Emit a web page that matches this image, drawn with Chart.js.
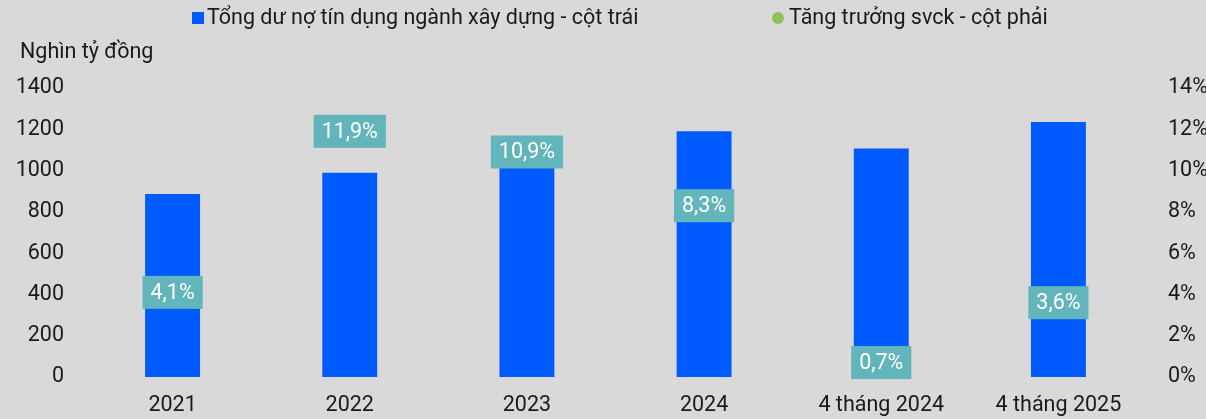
<!DOCTYPE html>
<html>
<head>
<meta charset="utf-8">
<script src="https://cdn.jsdelivr.net/npm/chart.js@4/dist/chart.umd.min.js"></script>
<style>
  html, body { margin: 0; padding: 0; background: #d9d9d9; }
  #wrap { width: 1206px; height: 419px; position: relative; }
</style>
</head>
<body>
<div id="wrap"><canvas id="chart"></canvas></div>
<script>
"use strict";
const categories = ["2021", "2022", "2023", "2024", "4 tháng 2024", "4 tháng 2025"];
const creditValues = [886, 990, 1095, 1191, 1107, 1235];
const growthValues = [4.1, 11.9, 10.9, 8.3, 0.7, 3.6];
const leftTicks = [0, 200, 400, 600, 800, 1000, 1200, 1400];
const rightTicks = [0, 2, 4, 6, 8, 10, 12, 14];

const barColor = "#005bff";
const dotColor = "#92c15a";
const labelBg = "#62b6bb";
const textColor = "#1a1a1a";
const fontFamily = "Roboto, 'Noto Sans', sans-serif";
const fontSize = 21.5;

// legend, axis title and the teal value boxes
const extras = {
    id: "extras",
    afterDatasetsDraw(chart) {
        const ctx = chart.ctx;
        ctx.save();
        ctx.font = fontSize + "px " + fontFamily;
        ctx.textBaseline = "middle";

        // value boxes on the growth points
        const meta = chart.getDatasetMeta(1);
        meta.data.forEach((pt, i) => {
            const txt = growthValues[i].toFixed(1).replace(".", ",") + "%";
            const w = ctx.measureText(txt).width + 16;
            const h = 33;
            ctx.fillStyle = labelBg;
            ctx.fillRect(pt.x - w / 2, pt.y - h / 2, w, h);
            ctx.fillStyle = "#ffffff";
            ctx.textAlign = "center";
            ctx.fillText(txt, pt.x, pt.y + 1);
        });

        // legend
        ctx.textAlign = "left";
        ctx.fillStyle = barColor;
        ctx.fillRect(192, 12, 12, 12);
        ctx.fillStyle = textColor;
        ctx.fillText(chart.data.datasets[0].label, 207, 19);
        ctx.fillStyle = dotColor;
        ctx.beginPath();
        ctx.arc(778, 18, 6, 0, Math.PI * 2);
        ctx.fill();
        ctx.fillStyle = textColor;
        ctx.fillText(chart.data.datasets[1].label, 789, 19);

        // left axis title
        ctx.fillText("Nghìn tỷ đồng", 20, 53);
        ctx.restore();
    }
};

new Chart(document.querySelector("#chart"), {
    data: {
        labels: categories,
        datasets: [
            {
                type: "bar",
                label: "Tổng dư nợ tín dụng ngành xây dựng - cột trái",
                data: creditValues,
                backgroundColor: barColor,
                barPercentage: 0.31,
                categoryPercentage: 1,
                yAxisID: "y",
                order: 2,
            },
            {
                type: "line",
                label: "Tăng trưởng svck - cột phải",
                data: growthValues,
                showLine: false,
                pointRadius: 0,
                borderColor: dotColor,
                backgroundColor: dotColor,
                yAxisID: "y1",
                order: 1,
            },
        ],
    },
    options: {
        responsive: true,
        maintainAspectRatio: false,
        animation: false,
        layout: { padding: { top: 88, bottom: 0, left: 0, right: 0 } },
        plugins: {
            legend: { display: false },
            tooltip: { enabled: false },
        },
        scales: {
            x: {
                grid: { display: false, drawTicks: false },
                border: { display: false },
                afterFit: s => { s.height = 42; },
                ticks: { color: textColor, font: { family: fontFamily, size: fontSize }, padding: 16 },
            },
            y: {
                position: "left",
                min: 0,
                max: 1400,
                afterBuildTicks: s => { s.ticks = leftTicks.map(v => ({ value: v })); },
                afterFit: s => { s.width = 84; },
                grid: { display: false, drawTicks: false },
                border: { display: false },
                ticks: {
                    color: textColor,
                    font: { family: fontFamily, size: fontSize },
                    padding: 20,
                    callback: v => String(v),
                },
            },
            y1: {
                position: "right",
                min: 0,
                max: 14,
                afterBuildTicks: s => { s.ticks = rightTicks.map(v => ({ value: v })); },
                afterFit: s => { s.width = 59; },
                grid: { display: false, drawTicks: false },
                border: { display: false },
                ticks: {
                    color: textColor,
                    font: { family: fontFamily, size: fontSize },
                    padding: 21,
                    callback: v => v + "%",
                },
            },
        },
    },
    plugins: [extras],
});
</script>
</body>
</html>
